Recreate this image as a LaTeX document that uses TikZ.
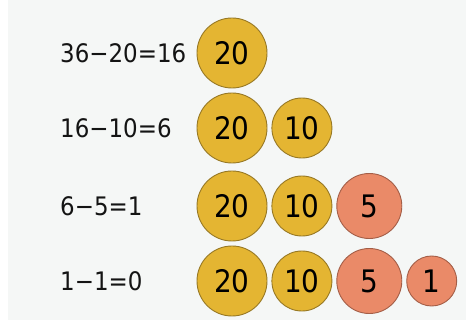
\documentclass[tikz,border=0pt]{standalone}
\usepackage{fontspec}
\setmainfont{DejaVu Sans}[FakeStretch=0.9]
\usetikzlibrary{positioning}
\definecolor{gold}{HTML}{E4B532}
\definecolor{golddark}{HTML}{977824}
\definecolor{salmon}{HTML}{EA8A68}
\definecolor{salmondark}{HTML}{A45E47}
\definecolor{paper}{HTML}{F5F7F6}
\tikzset{
  coin/.style={
    circle,inner sep=0pt,line width=.9pt,
    font=\fontsize{31}{31}\selectfont,text=black
  },
  coinA/.style={coin,draw=golddark,fill=gold,minimum size=70pt},
  coinB/.style={coin,draw=golddark,fill=gold,minimum size=60pt},
  coinC/.style={coin,draw=salmondark,fill=salmon,minimum size=65pt},
  coinD/.style={coin,draw=salmondark,fill=salmon,minimum size=50pt},
  sum/.style={anchor=west,inner sep=0pt,font=\fontsize{25.5}{26}\selectfont,text=black!92}
}

\begin{document}
\begin{tikzpicture}[x=1pt,y=-1pt,node distance=4pt]
\fill[paper] (0,0) rectangle (466,320);
\fill[white] (0,0) rectangle (8,320);
\useasboundingbox (0,0) rectangle (466,320);

% first row
\node[sum] (sumA) at (60,53) {36−20=16};
\node[coinA] (a20) at (232,53) {20};

% second row
\node[sum] (sumB) at (60,128) {16−10=6};
\node[coinA] (b20) at (232,128) {20};
\node[coinB,right=of b20] (b10) {10};

% third row
\node[sum] (sumC) at (60,206) {6−5=1};
\node[coinA] (c20) at (232,206) {20};
\node[coinB,right=of c20] (c10) {10};
\node[coinC,right=of c10] (c5) {5};

% last row
\node[sum] (sumD) at (60,281) {1−1=0};
\node[coinA] (d20) at (232,281) {20};
\node[coinB,right=of d20] (d10) {10};
\node[coinC,right=of d10] (d5) {5};
\node[coinD,right=of d5] (d1) {1};
\end{tikzpicture}
\end{document}
